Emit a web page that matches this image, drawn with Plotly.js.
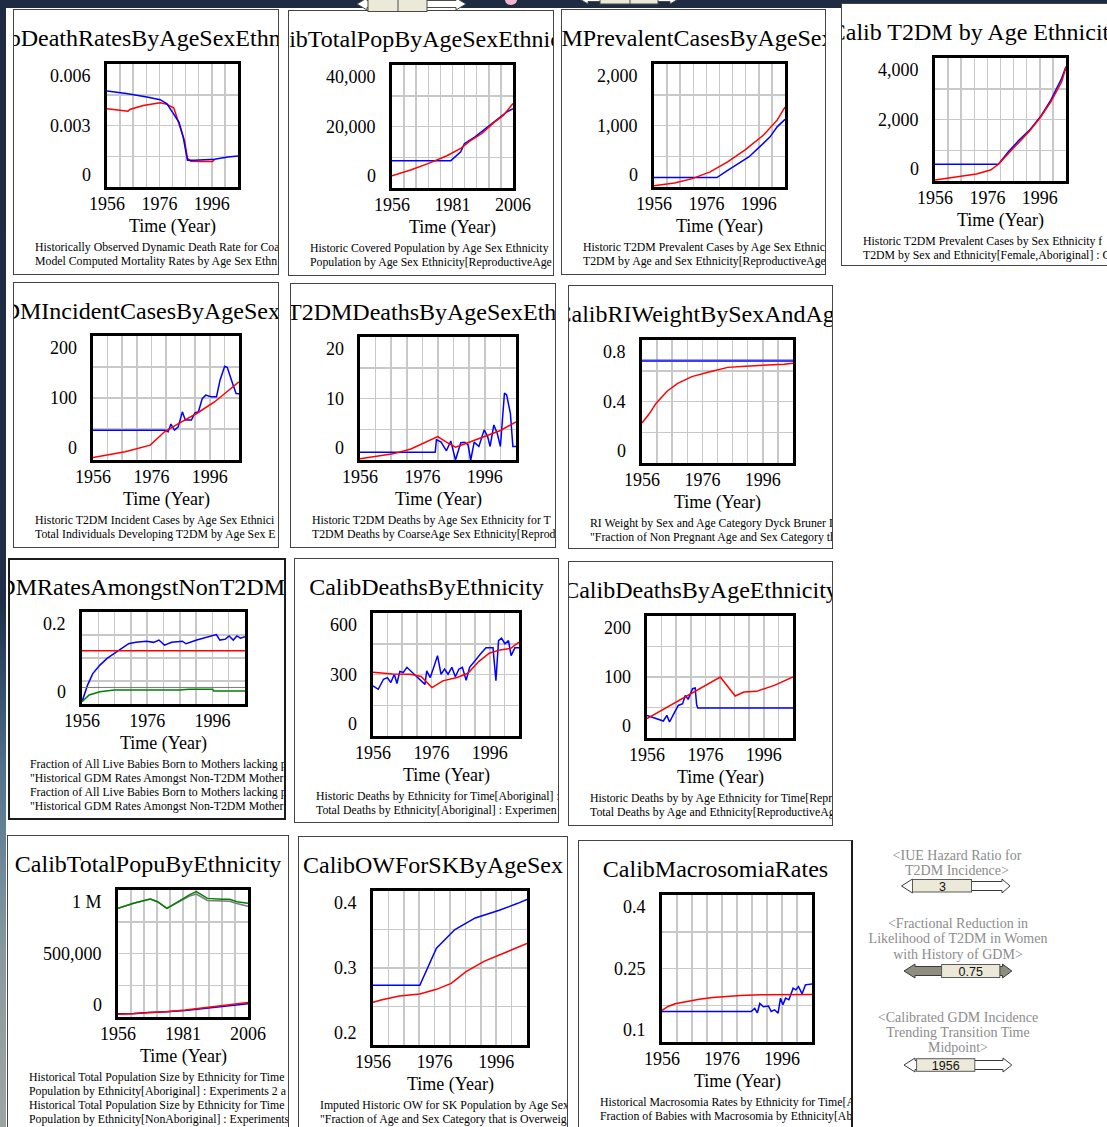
<!DOCTYPE html>
<html>
<head>
<meta charset="utf-8">
<script src="https://cdn.plot.ly/plotly-3.0.1.min.js"></script>
<style>
  html, body { margin:0; padding:0; width:1107px; height:1127px; overflow:hidden; background:#ffffff; position:relative; }
  #frameTop { position:absolute; left:0; top:0; width:1107px; height:8px; background:#1e2b43; }
  #frameLeft { position:absolute; left:0; top:0; width:6px; height:1127px;
    background:linear-gradient(to bottom, #1e2b43 0px, #1f2d46 600px, #34506e 690px, #52718c 770px, #6e8899 860px, #8a9a9c 960px, #9da5a3 1127px); }
  .panel { position:absolute; overflow:hidden; background:#ffffff; }
  .panel .plot { position:absolute; left:0; top:0; }
  .panel .edge { position:absolute; left:0; top:0; right:0; bottom:0; box-sizing:border-box; border:1px solid #444444; pointer-events:none; }
  #widgets { position:absolute; left:0; top:0; pointer-events:none; }
</style>
</head>
<body>
<div id="frameTop"></div>
<div id="frameLeft"></div>
<div id="panels"></div>

<svg id="widgets" width="1107" height="1127" xmlns="http://www.w3.org/2000/svg">
  <!-- slider controls scrolled off the top edge -->
  <g stroke="#4a4a4a" stroke-width="1">
    <polygon fill="#ffffff" points="357,4 367,-2 367,0.5 456,0.5 456,-2 466,4 456,10 456,7.5 367,7.5 367,10"/>
    <rect x="368" y="-3" width="59" height="14.5" fill="#ece9d8"/>
    <line x1="398" y1="-3" x2="398" y2="11.5"/>
    <polygon fill="#ffffff" points="578,-2 588,-8 588,-5.5 670,-5.5 670,-8 680,-2 670,4 670,1.5 588,1.5 588,4"/>
    <rect x="600" y="-9" width="58" height="13" fill="#ece9d8"/>
    <line x1="630" y1="-9" x2="630" y2="4"/>
  </g>
  <ellipse cx="511" cy="0" rx="6" ry="5" fill="#f5b6d2"/>

  <!-- IUE Hazard Ratio slider -->
  <g font-family="'Liberation Serif', 'Times New Roman', serif" font-size="14" fill="#8c8c8c" text-anchor="middle">
    <text x="957" y="860">&lt;IUE Hazard Ratio for</text>
    <text x="957" y="875">T2DM Incidence&gt;</text>
  </g>
  <g stroke="#3a3a3a" stroke-width="1">
    <polygon fill="#ffffff" points="901.5,886 912.5,879 912.5,881.5 1002,881.5 1002,879 1010,886 1002,893 1002,890.5 912.5,890.5 912.5,893"/>
    <rect x="912.5" y="879.5" width="59" height="12.5" fill="#ece9d8" stroke="#5a5a5a"/>
  </g>
  <text x="942.5" y="890.5" font-family="'Liberation Sans', Arial, sans-serif" font-size="12.5" fill="#111" text-anchor="middle">3</text>

  <!-- Fractional reduction slider -->
  <g font-family="'Liberation Serif', 'Times New Roman', serif" font-size="14" fill="#8c8c8c" text-anchor="middle">
    <text x="958" y="928">&lt;Fractional Reduction in</text>
    <text x="958" y="943">Likelihood of T2DM in Women</text>
    <text x="958" y="959">with History of GDM&gt;</text>
  </g>
  <g stroke="#3a3a3a" stroke-width="1">
    <polygon fill="#8f8d7f" points="904,971 915,964 915,966.5 941.6,966.5 941.6,975.5 915,975.5 915,978"/>
    <polygon fill="#8f8d7f" points="999.8,966.5 1002.5,966.5 1002.5,964 1011.8,971 1002.5,978 1002.5,975.5 999.8,975.5"/>
    <rect x="941.6" y="964.5" width="58.2" height="13" fill="#ece9d8" stroke="#5a5a5a"/>
  </g>
  <text x="970.7" y="975.5" font-family="'Liberation Sans', Arial, sans-serif" font-size="12.5" fill="#111" text-anchor="middle">0.75</text>

  <!-- GDM incidence transition midpoint slider -->
  <g font-family="'Liberation Serif', 'Times New Roman', serif" font-size="14" fill="#8c8c8c" text-anchor="middle">
    <text x="958" y="1021.5">&lt;Calibrated GDM Incidence</text>
    <text x="958" y="1036.5">Trending Transition Time</text>
    <text x="958" y="1052">Midpoint&gt;</text>
  </g>
  <g stroke="#3a3a3a" stroke-width="1">
    <polygon fill="#ffffff" points="904,1065 915,1058 915,1060.5 1003,1060.5 1003,1058 1011.8,1065 1003,1072 1003,1069.5 915,1069.5 915,1072"/>
    <rect x="916.6" y="1058.7" width="58.2" height="12.6" fill="#ece9d8" stroke="#5a5a5a"/>
  </g>
  <text x="945.7" y="1069.5" font-family="'Liberation Sans', Arial, sans-serif" font-size="12.5" fill="#111" text-anchor="middle">1956</text>
</svg>

<script>
// ---------- shared axis values ----------
const GRID_YEARS = [1956, 1961, 1966, 1971, 1976, 1981, 1986, 1991, 1996, 2001, 2006];
const YEAR_LABELS_20 = [1956, 1976, 1996];
const YEAR_LABELS_25 = [1956, 1981, 2006];

// ---------- CalibDeathRatesByAgeSexEthnicity ----------
const deathRateObsYears = [1956, 1963.4, 1971.2, 1976.3, 1978.9, 1981.5, 1983.5, 1985.1, 1986.7, 1989.3, 1997, 2002.2, 2006];
const deathRateObs = [0.00468, 0.00456, 0.00439, 0.00426, 0.00406, 0.00357, 0.00316, 0.00242, 0.00130, 0.00130, 0.00135, 0.00146, 0.00151];
const deathRateModelYears = [1956, 1959.5, 1964, 1964.7, 1969.8, 1976.3, 1978.9, 1981.5, 1983.5, 1985.6, 1986.7, 1988, 1991.8, 1996.3, 1997];
const deathRateModel = [0.00382, 0.00378, 0.00370, 0.00378, 0.00398, 0.00411, 0.00403, 0.00385, 0.00308, 0.00226, 0.00140, 0.00126, 0.00124, 0.00125, 0.00133];
const deathRateYVals = [0, 0.003, 0.006];
const deathRateYText = ['0', '0.003', '0.006'];

// ---------- CalibTotalPopByAgeSexEthnicity ----------
const coveredPopYears = [1956, 1980.3, 1984.4, 1985.9, 1990.3, 1994.7, 1999.1, 2003.6, 2006];
const coveredPop = [8900, 8900, 11800, 14400, 16600, 19400, 22100, 24800, 25800];
const agePopYears = [1956, 1963.7, 1971.1, 1978.5, 1984.4, 1988.8, 1993.3, 1997.7, 2002.1, 2006];
const agePop = [4000, 5850, 8000, 10400, 12900, 15600, 17800, 21000, 23700, 27500];
const agePopYVals = [0, 20000, 40000];
const agePopYText = ['0', '20,000', '40,000'];

// ---------- CalibT2DMPrevalentCasesByAgeSexEthnicity ----------
const prevHistYears = [1956, 1980, 1984.1, 1988.2, 1992.2, 1996.3, 2000.3, 2003, 2006];
const prevHist = [153, 153, 272, 380, 489, 652, 815, 978, 1100];
const prevModelYears = [1956, 1963.8, 1970.6, 1977.4, 1984.1, 1990.9, 1997.7, 2003, 2006];
const prevModel = [22, 66, 136, 245, 408, 609, 842, 1087, 1300];
const prevYVals = [0, 1000, 2000];
const prevYText = ['0', '1,000', '2,000'];

// ---------- Calib T2DM by Age Ethnicity ----------
const t2dmHistYears = [1956, 1980.2, 1984, 1988.1, 1992.1, 1996.2, 2000.2, 2004.3, 2006];
const t2dmHist = [545, 545, 951, 1330, 1655, 2087, 2628, 3331, 3720];
const t2dmModelYears = [1956, 1965.1, 1971.8, 1977.2, 1980.2, 1984, 1988.1, 1992.1, 1996.2, 2000.2, 2004.3, 2006];
const t2dmModel = [32, 141, 227, 357, 545, 898, 1276, 1622, 2066, 2574, 3223, 3700];
const t2dmYVals = [0, 2000, 4000];
const t2dmYText = ['0', '2,000', '4,000'];

// ---------- CalibT2DMIncidentCasesByAgeSexEthnicity ----------
const incHistYears = [1956, 1981, 1981.7, 1982.7, 1983.9, 1985.2, 1986.6, 1987.6, 1989.7, 1990.9, 1992.1, 1993.4, 1994.6, 1996.4, 1998.3, 1999.5, 2001.1, 2002, 2003.8, 2005, 2006];
const incHist = [48, 48, 45.6, 57.9, 48.3, 53.6, 77.7, 64.4, 64.4, 76.1, 77.7, 99, 104.6, 102, 102, 128.7, 151.2, 149, 123.4, 107.3, 107];
const incModelYears = [1956, 1967, 1975.6, 1976.8, 1980.5, 1985.4, 1991.5, 1997.7, 2002.6, 2006];
const incModel = [4, 13.4, 24, 29, 45.5, 59, 75, 94, 112.6, 126];
const incYVals = [0, 100, 200];
const incYText = ['0', '100', '200'];

// ---------- CalibT2DMDeathsByAgeSexEthnicity ----------
const t2dmDeathHistYears = [1956, 1980.1, 1980.5, 1982, 1983.7, 1985.1, 1986.6, 1988.3, 1989.5, 1990.6, 1991.5, 1992.6, 1994.1, 1995.8, 1996.9, 1997.7, 1998.9, 2000, 2001, 2002.3, 2003, 2004.2, 2005, 2006];
const t2dmDeathHist = [1.24, 1.24, 3.3, 2.9, 1.5, 3.1, 0, 2.8, 2.9, 2.5, 0, 2.9, 2.2, 4.9, 3.8, 2.2, 5.7, 4.3, 2.2, 10.9, 10.6, 7.6, 2.2, 2.2];
const t2dmDeathModelYears = [1956, 1966.6, 1972.3, 1976.9, 1980.9, 1983.7, 1986.6, 1989.5, 1995.2, 2001, 2006];
const t2dmDeathModel = [0.2, 1, 1.8, 2.9, 3.8, 2.9, 2.1, 2.6, 3.7, 4.8, 6.2];
const t2dmDeathYVals = [0, 10, 20];
const t2dmDeathYText = ['0', '10', '20'];

// ---------- CalibRIWeightBySexAndAge ----------
const riDataYears = [1956, 2006];
const riData = [0.665, 0.665];
const riModelYears = [1956, 1958.4, 1960.7, 1964.3, 1967.8, 1972.5, 1978.5, 1984.4, 1990.3, 1999.7, 2003, 2006];
const riModel = [0.26, 0.32, 0.389, 0.467, 0.518, 0.562, 0.593, 0.622, 0.630, 0.637, 0.643, 0.648];
const riYVals = [0, 0.4, 0.8];
const riYText = ['0', '0.4', '0.8'];

// ---------- CalibGDMRatesAmongstNonT2DMMothers ----------
const gdmAborigYears = [1956, 1957.7, 1959.3, 1961.5, 1963.7, 1967, 1970.3, 1972.5, 1975.8, 1978, 1979.6, 1981.3, 1983.5, 1986.8, 1987.9, 1991.2, 1994.5, 1997.2, 1998.3, 2000, 2001.1, 2002.4, 2003.5, 2004.6, 2006];
const gdmAborig = [0.005, 0.041, 0.066, 0.0845, 0.099, 0.1155, 0.131, 0.134, 0.1365, 0.134, 0.139, 0.128, 0.134, 0.1365, 0.131, 0.139, 0.146, 0.151, 0.139, 0.141, 0.148, 0.139, 0.148, 0.143, 0.146];
const gdmAborigHistYears = [1956, 2006];
const gdmAborigHist = [0.1155, 0.1155];
const gdmNonAborigYears = [1956, 1958.2, 1961.5, 1965.9, 1986, 1988.7, 1996.1, 1996.4, 2006];
const gdmNonAborig = [0.005, 0.0195, 0.0267, 0.0303, 0.0303, 0.032, 0.032, 0.028, 0.028];
const gdmNonAborigHistYears = [1956, 2006];
const gdmNonAborigHist = [0.036, 0.036];
const gdmYVals = [0, 0.2];
const gdmYText = ['0', '0.2'];

// ---------- CalibDeathsByEthnicity ----------
const ethDeathHistYears = [1956, 1957.8, 1959.6, 1960.9, 1962.1, 1963.3, 1964.2, 1965.2, 1966.4, 1967.6, 1970.1, 1972.5, 1973.8, 1974.4, 1975.6, 1976.8, 1978.1, 1979.3, 1980.5, 1981.7, 1983, 1984.2, 1985.4, 1986.6, 1987.9, 1989.1, 1991, 1992.8, 1994.7, 1997.1, 1998.1, 1999, 2000, 2001.2, 2002.4, 2003.3, 2004.6, 2006];
const ethDeathHist = [245, 228, 277, 285, 261, 301, 256, 315, 310, 335, 301, 272, 252, 318, 285, 335, 392, 301, 326, 301, 335, 289, 326, 335, 272, 335, 370, 400, 430, 430, 270, 465, 477, 450, 465, 392, 430, 430];
const ethDeathModelYears = [1956, 1959.6, 1962.7, 1968.8, 1972.5, 1976.2, 1979.9, 1984.8, 1988.5, 1992.2, 1995.8, 1999.5, 2003.2, 2006];
const ethDeathModel = [311, 306, 303, 301, 290, 236, 269, 285, 306, 363, 404, 420, 428, 458];
const ethDeathYVals = [0, 300, 600];
const ethDeathYText = ['0', '300', '600'];

// ---------- CalibDeathsByAgeEthnicity ----------
const ageEthDeathHistYears = [1956, 1959.4, 1961.6, 1962.8, 1963.7, 1964.9, 1966.7, 1968.2, 1969.1, 1970.1, 1971.6, 1972.5, 1973, 1973.4, 2006];
const ageEthDeathHist = [37, 31.7, 27.9, 37.1, 26.2, 37, 53.4, 56.1, 69.8, 63.3, 80.8, 81.9, 54.5, 49, 49];
const ageEthDeathModelYears = [1956, 1981.1, 1986.2, 1989.2, 1993.5, 1999.6, 2006];
const ageEthDeathModel = [31.7, 100, 68.9, 75.4, 76.5, 86.3, 100];
const ageEthDeathYVals = [0, 100, 200];
const ageEthDeathYText = ['0', '100', '200'];

// ---------- CalibTotalPopuByEthnicity ----------
const popAborigYears = [1956, 1962, 1967.4, 1972, 1974.6, 1981.9, 1990.4, 1998.9, 2006];
const popAborigHist = [26000, 27000, 36000, 37000, 41000, 52000, 70000, 89000, 105000];
const popAborigModel = [22000, 25000, 34000, 38000, 42000, 55000, 75000, 95000, 115000];
const popNonAborigYears = [1956, 1962, 1968.4, 1971.2, 1974.8, 1979, 1983.3, 1986.1, 1990.4, 1996.1, 1998.9, 2001.7, 2006];
const popNonAborigHist = [856000, 895000, 929000, 908000, 856000, 908000, 960000, 987000, 934000, 927000, 927000, 908000, 895000];
const popNonAborigModel = [856000, 895000, 929000, 908000, 856000, 905000, 950000, 968000, 918000, 914000, 912000, 893000, 872000];
const popYVals = [0, 500000, 1000000];
const popYText = ['0', '500,000', '1 M'];

// ---------- CalibOWForSKByAgeSex ----------
const owHistYears = [1956, 1971.2, 1976.6, 1982.6, 1989.2, 1997, 2003, 2006];
const owHist = [0.2775, 0.2775, 0.3256, 0.350, 0.3650, 0.3750, 0.3840, 0.389];
const owModelYears = [1956, 1958.6, 1964.6, 1971.2, 1976.6, 1981.4, 1986.2, 1992.2, 1998.2, 2006];
const owModel = [0.2555, 0.2584, 0.2636, 0.2662, 0.2723, 0.280, 0.2952, 0.309, 0.3188, 0.3318];
const owYVals = [0.2, 0.3, 0.4];
const owYText = ['0.2', '0.3', '0.4'];

// ---------- CalibMacrosomiaRates ----------
const macroHistYears = [1956, 1985.7, 1986.9, 1987.8, 1988.6, 1989.8, 1991.5, 1992.4, 1993.5, 1994.7, 1995.5, 1996.3, 1997.2, 1998.3, 1999.7, 2000.6, 2001.5, 2002.7, 2003.8, 2005.2, 2006];
const macroHist = [0.1623, 0.1623, 0.1684, 0.1596, 0.1786, 0.1718, 0.1732, 0.1623, 0.1657, 0.1589, 0.1895, 0.1759, 0.1895, 0.1861, 0.2098, 0.2064, 0.2132, 0.1983, 0.2166, 0.2186, 0.2186];
const macroModelYears = [1956, 1958, 1960.4, 1963.8, 1968.4, 1972.9, 1977.5, 1982.1, 1989, 1995.9, 2006];
const macroModel = [0.1644, 0.1725, 0.178, 0.1826, 0.1874, 0.1908, 0.1929, 0.195, 0.1963, 0.197, 0.197];
const macroYVals = [0.1, 0.25, 0.4];
const macroYText = ['0.1', '0.25', '0.4'];

// ---------- styling ----------
const SERIF = '"Liberation Serif", "Times New Roman", serif';
const BLUE = '#0000ff', RED = '#ff0000', GREEN = '#008000', GRAY = '#7a7a7a';
const GRID_COLOR = '#c8c8c8';

// Each panel: outer box and plot frame in page pixels, then its series and texts.
// Legend lines are the portion that fits inside each window.
const panels = [
  { box:[13, 9, 279, 275], plot:[107, 64, 238, 187], title:'CalibDeathRatesByAgeSexEthnicity',
    xLabels:YEAR_LABELS_20, yRange:[0, 0.006], yVals:deathRateYVals, yText:deathRateYText,
    series:[{x:deathRateModelYears, y:deathRateModel, color:RED}, {x:deathRateObsYears, y:deathRateObs, color:BLUE}],
    legend:['Historically Observed Dynamic Death Rate for Coa',
            'Model Computed Mortality Rates by Age Sex Ethn'] },
  { box:[288, 10, 554, 276], plot:[392, 65, 513, 188], title:'CalibTotalPopByAgeSexEthnicity',
    xLabels:YEAR_LABELS_25, yRange:[0, 40000], yVals:agePopYVals, yText:agePopYText,
    series:[{x:coveredPopYears, y:coveredPop, color:BLUE}, {x:agePopYears, y:agePop, color:RED}],
    legend:['Historic Covered Population by Age Sex Ethnicity',
            'Population by Age Sex Ethnicity[ReproductiveAge'] },
  { box:[561, 9, 826, 275], plot:[654, 64, 785, 187], title:'CalibT2DMPrevalentCasesByAgeSexEthnicity',
    xLabels:YEAR_LABELS_20, yRange:[0, 2000], yVals:prevYVals, yText:prevYText,
    series:[{x:prevHistYears, y:prevHist, color:BLUE}, {x:prevModelYears, y:prevModel, color:RED}],
    legend:['Historic T2DM Prevalent Cases by Age Sex Ethnic',
            'T2DM by Age and Sex Ethnicity[ReproductiveAge'] },
  { box:[841, 3, 1110, 266], plot:[935, 58, 1066, 181], title:'Calib T2DM by Age Ethnicity',
    xLabels:YEAR_LABELS_20, yRange:[0, 4000], yVals:t2dmYVals, yText:t2dmYText,
    series:[{x:t2dmHistYears, y:t2dmHist, color:BLUE}, {x:t2dmModelYears, y:t2dmModel, color:RED}],
    legend:['Historic T2DM Prevalent Cases by Sex Ethnicity f',
            'T2DM by Sex and Ethnicity[Female,Aboriginal] : C'] },
  { box:[13, 282, 279, 548], plot:[93, 336, 239, 460], title:'CalibT2DMIncidentCasesByAgeSexEthnicity',
    xLabels:YEAR_LABELS_20, yRange:[0, 200], yVals:incYVals, yText:incYText,
    series:[{x:incHistYears, y:incHist, color:BLUE}, {x:incModelYears, y:incModel, color:RED}],
    legend:['Historic T2DM Incident Cases by Age Sex Ethnici',
            'Total Individuals Developing T2DM by Age Sex E'] },
  { box:[290, 283, 556, 548], plot:[360, 337, 516, 460], title:'CalibT2DMDeathsByAgeSexEthnicity',
    xLabels:YEAR_LABELS_20, yRange:[0, 20], yVals:t2dmDeathYVals, yText:t2dmDeathYText,
    series:[{x:t2dmDeathHistYears, y:t2dmDeathHist, color:BLUE}, {x:t2dmDeathModelYears, y:t2dmDeathModel, color:RED}],
    legend:['Historic T2DM Deaths by Age Sex Ethnicity for T',
            'T2DM Deaths by CoarseAge Sex Ethnicity[Reprod'] },
  { box:[568, 285, 833, 549], plot:[642, 340, 793, 463], title:'CalibRIWeightBySexAndAge',
    xLabels:YEAR_LABELS_20, yRange:[0, 0.8], yVals:riYVals, yText:riYText,
    series:[{x:riDataYears, y:riData, color:'#3c3cff', width:2.5}, {x:riModelYears, y:riModel, color:RED}],
    legend:['RI Weight by Sex and Age Category Dyck Bruner D',
            '"Fraction of Non Pregnant Age and Sex Category th'] },
  { box:[8, 558, 286, 820], plot:[82, 612, 245, 704], title:'CalibGDMRatesAmongstNonT2DMMothers', edge:'2px solid #1c1c1c',
    xLabels:YEAR_LABELS_20, yRange:[0, 0.2], yVals:gdmYVals, yText:gdmYText,
    series:[{x:gdmAborigYears, y:gdmAborig, color:BLUE}, {x:gdmAborigHistYears, y:gdmAborigHist, color:RED},
            {x:gdmNonAborigYears, y:gdmNonAborig, color:GREEN}, {x:gdmNonAborigHistYears, y:gdmNonAborigHist, color:GRAY, width:1}],
    legend:['Fraction of All Live Babies Born to Mothers lacking p',
            '"Historical GDM Rates Amongst Non-T2DM Mother',
            'Fraction of All Live Babies Born to Mothers lacking p',
            '"Historical GDM Rates Amongst Non-T2DM Mother'] },
  { box:[294, 558, 559, 823], plot:[373, 613, 519, 736], title:'CalibDeathsByEthnicity',
    xLabels:YEAR_LABELS_20, yRange:[0, 600], yVals:ethDeathYVals, yText:ethDeathYText,
    series:[{x:ethDeathHistYears, y:ethDeathHist, color:BLUE}, {x:ethDeathModelYears, y:ethDeathModel, color:RED}],
    legend:['Historic Deaths by Ethnicity for Time[Aboriginal] :',
            'Total Deaths by Ethnicity[Aboriginal] : Experimen'] },
  { box:[568, 561, 833, 826], plot:[647, 616, 793, 738], title:'CalibDeathsByAgeEthnicity',
    xLabels:YEAR_LABELS_20, yRange:[0, 200], yVals:ageEthDeathYVals, yText:ageEthDeathYText,
    series:[{x:ageEthDeathHistYears, y:ageEthDeathHist, color:BLUE}, {x:ageEthDeathModelYears, y:ageEthDeathModel, color:RED}],
    legend:['Historic Deaths by by Age Ethnicity for Time[Repr',
            'Total Deaths by Age and Ethnicity[ReproductiveAg'] },
  { box:[7, 835, 289, 1140], plot:[118, 890, 248, 1017], title:'CalibTotalPopuByEthnicity',
    xLabels:YEAR_LABELS_25, yRange:[0, 1000000], yVals:popYVals, yText:popYText,
    series:[{x:popAborigYears, y:popAborigHist, color:BLUE}, {x:popAborigYears, y:popAborigModel, color:RED},
            {x:popNonAborigYears, y:popNonAborigModel, color:GRAY}, {x:popNonAborigYears, y:popNonAborigHist, color:GREEN}],
    legend:['Historical Total Population Size by Ethnicity for Time',
            'Population by Ethnicity[Aboriginal] : Experiments 2 a',
            'Historical Total Population Size by Ethnicity for Time',
            'Population by Ethnicity[NonAboriginal] : Experiments'] },
  { box:[298, 836, 568, 1140], plot:[373, 891, 527, 1045], title:'CalibOWForSKByAgeSex',
    xLabels:YEAR_LABELS_20, yRange:[0.2, 0.4], yVals:owYVals, yText:owYText,
    series:[{x:owHistYears, y:owHist, color:BLUE}, {x:owModelYears, y:owModel, color:RED}],
    legend:['Imputed Historic OW for SK Population by Age Sex',
            '"Fraction of Age and Sex Category that is Overweig'] },
  { box:[578, 840, 853, 1140], plot:[662, 895, 812, 1042], title:'CalibMacrosomiaRates', edgeRight:true,
    xLabels:YEAR_LABELS_20, yRange:[0.1, 0.4], yVals:macroYVals, yText:macroYText,
    series:[{x:macroHistYears, y:macroHist, color:BLUE}, {x:macroModelYears, y:macroModel, color:RED}],
    legend:['Historical Macrosomia Rates by Ethnicity for Time[A',
            'Fraction of Babies with Macrosomia by Ethnicity[Ab'] }
];

function drawPanel(p, idx) {
  const [x0, y0, x1, y1] = p.box;
  const [px0, py0, px1, py1] = p.plot;
  const W = x1 - x0, H = y1 - y0;
  const m = { l: px0 - x0, t: py0 - y0, r: x1 - px1, b: y1 - py1, pad: 0 };
  const pw = px1 - px0, ph = py1 - py0;
  const toPaperX = x => (x - px0) / pw;
  const toPaperY = y => 1 - (y - py0) / ph;

  const wrap = document.createElement('div');
  wrap.className = 'panel';
  Object.assign(wrap.style, { left: x0 + 'px', top: y0 + 'px', width: W + 'px', height: H + 'px' });
  const plotDiv = document.createElement('div');
  plotDiv.className = 'plot';
  plotDiv.id = 'chart' + idx;
  const edge = document.createElement('div');
  edge.className = 'edge';
  if (p.edge) edge.style.border = p.edge;
  if (p.edgeRight) edge.style.borderRight = '2px solid #1c1c1c';
  wrap.appendChild(plotDiv);
  wrap.appendChild(edge);
  document.getElementById('panels').appendChild(wrap);

  const traces = p.series.map(s => ({
    type: 'scatter', mode: 'lines', x: s.x, y: s.y,
    line: { color: s.color, width: s.width || 1.5 }, hoverinfo: 'skip'
  }));

  const [r0, r1] = p.yRange;
  const yGrid = [r0, r0 + (r1 - r0) * 0.25, r0 + (r1 - r0) * 0.5, r0 + (r1 - r0) * 0.75, r1];

  const annotations = [];
  // value labels on the left: the end labels sit just inside the frame
  p.yVals.forEach((v, i) => {
    annotations.push({
      xref: 'paper', yref: 'y', x: 0, y: v, xanchor: 'right', yanchor: 'middle',
      xshift: -14, yshift: v === r1 ? -12 : (v === r0 ? 12 : 0),
      text: p.yText[i], showarrow: false, font: { family: SERIF, size: 18, color: '#000' }
    });
  });
  annotations.push({
    xref: 'paper', yref: 'paper', x: 0.5, y: toPaperY(py1 + 39), xanchor: 'center', yanchor: 'middle',
    text: 'Time (Year)', showarrow: false, font: { family: SERIF, size: 18, color: '#000' }
  });
  p.legend.forEach((line, i) => {
    annotations.push({
      xref: 'paper', yref: 'paper', x: toPaperX(x0 + 20), y: toPaperY(py1 + 59.5 + i * 14.3),
      xanchor: 'left', yanchor: 'middle', align: 'left',
      text: line, showarrow: false, font: { family: SERIF, size: 11.8, color: '#000' }
    });
  });

  const axisCommon = {
    showgrid: true, gridcolor: GRID_COLOR, gridwidth: 1.5, zeroline: false,
    showline: true, linecolor: '#000', linewidth: 3, mirror: true, ticks: '', fixedrange: true
  };

  const layout = {
    width: W, height: H, margin: m,
    paper_bgcolor: '#ffffff', plot_bgcolor: '#ffffff', showlegend: false,
    title: {
      text: p.title, font: { family: SERIF, size: 24, color: '#000' },
      x: 0.5, xref: 'container', xanchor: 'center',
      y: 1 - 28.5 / H, yref: 'container', yanchor: 'middle'
    },
    xaxis: Object.assign({}, axisCommon, {
      range: [1956, 2006], tickmode: 'array', tickvals: GRID_YEARS,
      ticktext: GRID_YEARS.map(yr => p.xLabels.includes(yr) ? String(yr) : ''),
      tickfont: { family: SERIF, size: 18, color: '#000' }, tickangle: 0, ticklabelstandoff: -2
    }),
    yaxis: Object.assign({}, axisCommon, {
      range: p.yRange, tickmode: 'array', tickvals: yGrid, showticklabels: false
    }),
    annotations
  };

  Plotly.newPlot(plotDiv, traces, layout, { staticPlot: true, displayModeBar: false });
}

panels.forEach(drawPanel);
</script>
</body>
</html>
